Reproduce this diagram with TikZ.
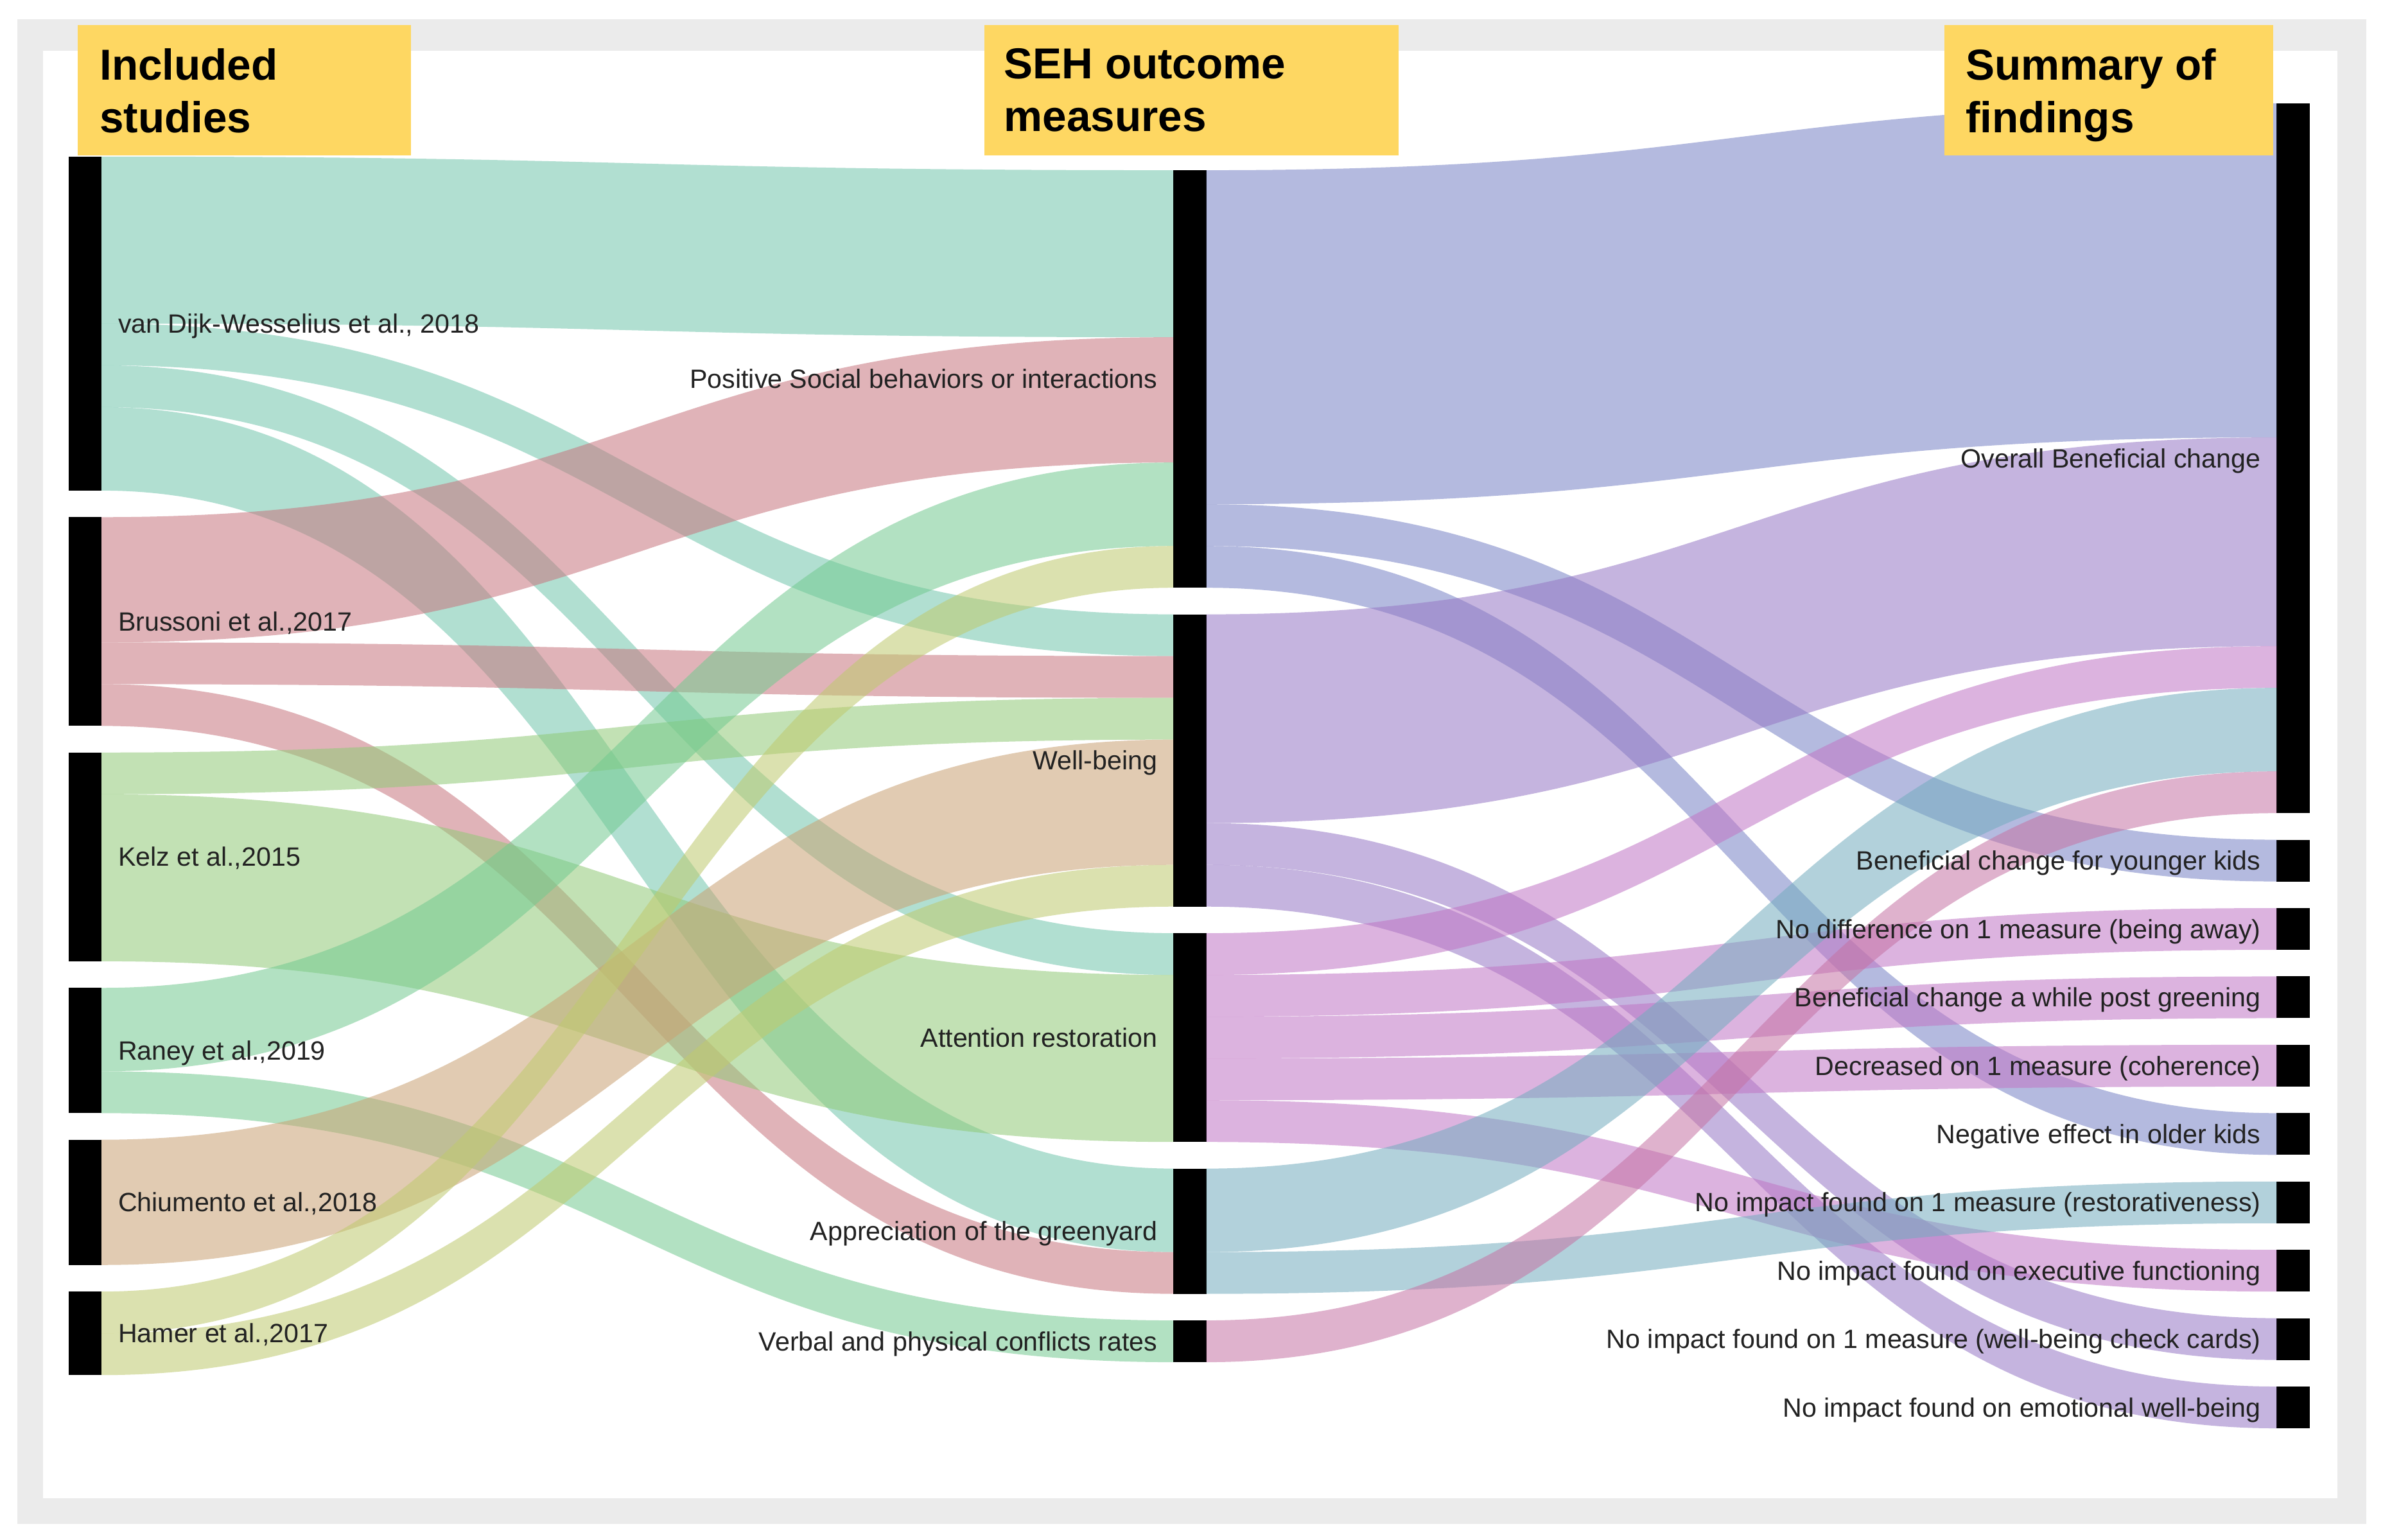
\documentclass[tikz,border=0pt]{standalone}
\usepackage{fontspec}
\setmainfont{Liberation Sans}
\usetikzlibrary{calc}
\definecolor{frameGray}{RGB}{235,235,235}
\definecolor{hdrYellow}{RGB}{254,215,98}
\definecolor{labelInk}{RGB}{34,34,34}
\definecolor{cTeal}{RGB}{113,197,173}
\definecolor{cRed}{RGB}{199,117,126}
\definecolor{cLime}{RGB}{144,202,119}
\definecolor{cGreen}{RGB}{115,202,144}
\definecolor{cTan}{RGB}{202,162,115}
\definecolor{cOlive}{RGB}{191,202,110}
\definecolor{cBlue}{RGB}{120,131,197}
\definecolor{cPurple}{RGB}{150,120,197}
\definecolor{cOrchid}{RGB}{193,117,197}
\definecolor{cSky}{RGB}{115,173,191}
\definecolor{cRose}{RGB}{197,115,164}
\def\sankeyU{27.47pt}
% #1 source node, #2 offset at source (units), #3 target node, #4 offset at target (units), #5 width (units), #6 colour
\newcommand{\skflow}[6]{%
  \fill[flow=#6] let \p1=([yshift={-(#2)*\sankeyU}]#1.north east),
                     \p2=([yshift={-(#4)*\sankeyU}]#3.north west) in
   (\p1) .. controls ({0.5*\x1+0.5*\x2},\y1) and ({0.5*\x1+0.5*\x2},\y2) .. (\p2)
   -- (\x2,{\y2-(#5)*\sankeyU})
   .. controls ({0.5*\x1+0.5*\x2},{\y2-(#5)*\sankeyU}) and ({0.5*\x1+0.5*\x2},{\y1-(#5)*\sankeyU}) .. (\x1,{\y1-(#5)*\sankeyU})
   -- cycle;}
\begin{document}
\begin{tikzpicture}[x=1pt,y=-1pt,
  bar/.style={fill=black, draw=none, inner sep=0pt, outer sep=0pt, minimum width=21.8pt, anchor=north west},
  flow/.style={fill=#1, fill opacity=0.55, draw=none},
  lbl/.style={font=\fontsize{17.4}{20}\selectfont, text=labelInk, inner sep=0pt, outer sep=0pt},
  hdrbox/.style={fill=hdrYellow, draw=none, inner sep=0pt, outer sep=0pt, anchor=north west, minimum height=86pt},
  hdrtext/.style={font=\fontsize{28.5}{34.7}\selectfont\bfseries, text=black, align=left, inner sep=0pt, outer sep=0pt, anchor=north west}]
\useasboundingbox (0,0) rectangle (1568,1013.2);
% frame
\fill[frameGray] (11.3,12.5) rectangle (1557,1002.7);
\fill[white] (28.2,33.5) rectangle (1538,985.7);
% left column
\node[bar, minimum height={8*\sankeyU}] (vD) at (45,103) {};
\node[bar, minimum height={5*\sankeyU}] (Br) at (45,340.26) {};
\node[bar, minimum height={5*\sankeyU}] (Ke) at (45,495.11) {};
\node[bar, minimum height={3*\sankeyU}] (Ra) at (45,649.96) {};
\node[bar, minimum height={3*\sankeyU}] (Ch) at (45,749.87) {};
\node[bar, minimum height={2*\sankeyU}] (Ha) at (45,849.78) {};
% middle column
\node[bar, minimum height={10*\sankeyU}] (PS) at (772,112) {};
\node[bar, minimum height={7*\sankeyU}] (WB) at (772,404.2) {};
\node[bar, minimum height={5*\sankeyU}] (AR) at (772,613.99) {};
\node[bar, minimum height={3*\sankeyU}] (AG) at (772,768.84) {};
\node[bar, minimum height={1*\sankeyU}] (VC) at (772,868.75) {};
% right column
\node[bar, minimum height={17*\sankeyU}] (OB) at (1498,68) {};
\node[bar, minimum height={1*\sankeyU}] (R1) at (1498,552.49) {};
\node[bar, minimum height={1*\sankeyU}] (R2) at (1498,597.46) {};
\node[bar, minimum height={1*\sankeyU}] (R3) at (1498,642.43) {};
\node[bar, minimum height={1*\sankeyU}] (R4) at (1498,687.4) {};
\node[bar, minimum height={1*\sankeyU}] (R5) at (1498,732.37) {};
\node[bar, minimum height={1*\sankeyU}] (R6) at (1498,777.34) {};
\node[bar, minimum height={1*\sankeyU}] (R7) at (1498,822.31) {};
\node[bar, minimum height={1*\sankeyU}] (R8) at (1498,867.28) {};
\node[bar, minimum height={1*\sankeyU}] (R9) at (1498,912.25) {};
% flows: studies -> measures
\skflow{vD}{0}{PS}{0}{4}{cTeal}
\skflow{vD}{4}{WB}{0}{1}{cTeal}
\skflow{vD}{5}{AR}{0}{1}{cTeal}
\skflow{vD}{6}{AG}{0}{2}{cTeal}
\skflow{Br}{0}{PS}{4}{3}{cRed}
\skflow{Br}{3}{WB}{1}{1}{cRed}
\skflow{Br}{4}{AG}{2}{1}{cRed}
\skflow{Ke}{0}{WB}{2}{1}{cLime}
\skflow{Ke}{1}{AR}{1}{4}{cLime}
\skflow{Ra}{0}{PS}{7}{2}{cGreen}
\skflow{Ra}{2}{VC}{0}{1}{cGreen}
\skflow{Ch}{0}{WB}{3}{3}{cTan}
\skflow{Ha}{0}{PS}{9}{1}{cOlive}
\skflow{Ha}{1}{WB}{6}{1}{cOlive}
% flows: measures -> findings
\skflow{PS}{0}{OB}{0}{8}{cBlue}
\skflow{PS}{8}{R1}{0}{1}{cBlue}
\skflow{PS}{9}{R5}{0}{1}{cBlue}
\skflow{WB}{0}{OB}{8}{5}{cPurple}
\skflow{WB}{5}{R8}{0}{1}{cPurple}
\skflow{WB}{6}{R9}{0}{1}{cPurple}
\skflow{AR}{0}{OB}{13}{1}{cOrchid}
\skflow{AR}{1}{R2}{0}{1}{cOrchid}
\skflow{AR}{2}{R3}{0}{1}{cOrchid}
\skflow{AR}{3}{R4}{0}{1}{cOrchid}
\skflow{AR}{4}{R7}{0}{1}{cOrchid}
\skflow{AG}{0}{OB}{14}{2}{cSky}
\skflow{AG}{2}{R6}{0}{1}{cSky}
\skflow{VC}{0}{OB}{16}{1}{cRose}
% labels
\node[lbl, anchor=base west] (vDt) at ($(vD.east)+(11,6.2)$) {van Dijk-Wesselius et al., 2018};
\node[lbl, anchor=base west] (Brt) at ($(Br.east)+(11,6.2)$) {Brussoni et al.,2017};
\node[lbl, anchor=base west] (Ket) at ($(Ke.east)+(11,6.2)$) {Kelz et al.,2015};
\node[lbl, anchor=base west] (Rat) at ($(Ra.east)+(11,6.2)$) {Raney et al.,2019};
\node[lbl, anchor=base west] (Cht) at ($(Ch.east)+(11,6.2)$) {Chiumento et al.,2018};
\node[lbl, anchor=base west] (Hat) at ($(Ha.east)+(11,6.2)$) {Hamer et al.,2017};
\node[lbl, anchor=base east] (PSt) at ($(PS.west)+(-10.5,6.2)$) {Positive Social behaviors or interactions};
\node[lbl, anchor=base east] (WBt) at ($(WB.west)+(-10.5,6.2)$) {Well-being};
\node[lbl, anchor=base east] (ARt) at ($(AR.west)+(-10.5,6.2)$) {Attention restoration};
\node[lbl, anchor=base east] (AGt) at ($(AG.west)+(-10.5,6.2)$) {Appreciation of the greenyard};
\node[lbl, anchor=base east] (VCt) at ($(VC.west)+(-10.5,6.2)$) {Verbal and physical conflicts rates};
\node[lbl, anchor=base east] (OBt) at ($(OB.west)+(-10.5,6.2)$) {Overall Beneficial change};
\node[lbl, anchor=base east] (R1t) at ($(R1.west)+(-10.5,6.2)$) {Beneficial change for younger kids};
\node[lbl, anchor=base east] (R2t) at ($(R2.west)+(-10.5,6.2)$) {No difference on 1 measure (being away)};
\node[lbl, anchor=base east] (R3t) at ($(R3.west)+(-10.5,6.2)$) {Beneficial change a while post greening};
\node[lbl, anchor=base east] (R4t) at ($(R4.west)+(-10.5,6.2)$) {Decreased on 1 measure (coherence)};
\node[lbl, anchor=base east] (R5t) at ($(R5.west)+(-10.5,6.2)$) {Negative effect in older kids};
\node[lbl, anchor=base east] (R6t) at ($(R6.west)+(-10.5,6.2)$) {No impact found on 1 measure (restorativeness)};
\node[lbl, anchor=base east] (R7t) at ($(R7.west)+(-10.5,6.2)$) {No impact found on executive functioning};
\node[lbl, anchor=base east] (R8t) at ($(R8.west)+(-10.5,6.2)$) {No impact found on 1 measure (well-being check cards)};
\node[lbl, anchor=base east] (R9t) at ($(R9.west)+(-10.5,6.2)$) {No impact found on emotional well-being};
% headers
\node[hdrbox, minimum width=219.2pt] (H1) at (51.2,16.3) {};
\node[hdrbox, minimum width=272.4pt] (H2) at (647.8,16.3) {};
\node[hdrbox, minimum width=216.3pt] (H3) at (1279.6,16.3) {};
\node[hdrtext] (H1t) at ($(H1.north west)+(14.4,15.7)$) {Included\\studies};
\node[hdrtext] (H2t) at ($(H2.north west)+(12.9,15.7)$) {SEH outcome\\measures};
\node[hdrtext] (H3t) at ($(H3.north west)+(13.9,15.7)$) {Summary of\\findings};
\end{tikzpicture}
\end{document}
